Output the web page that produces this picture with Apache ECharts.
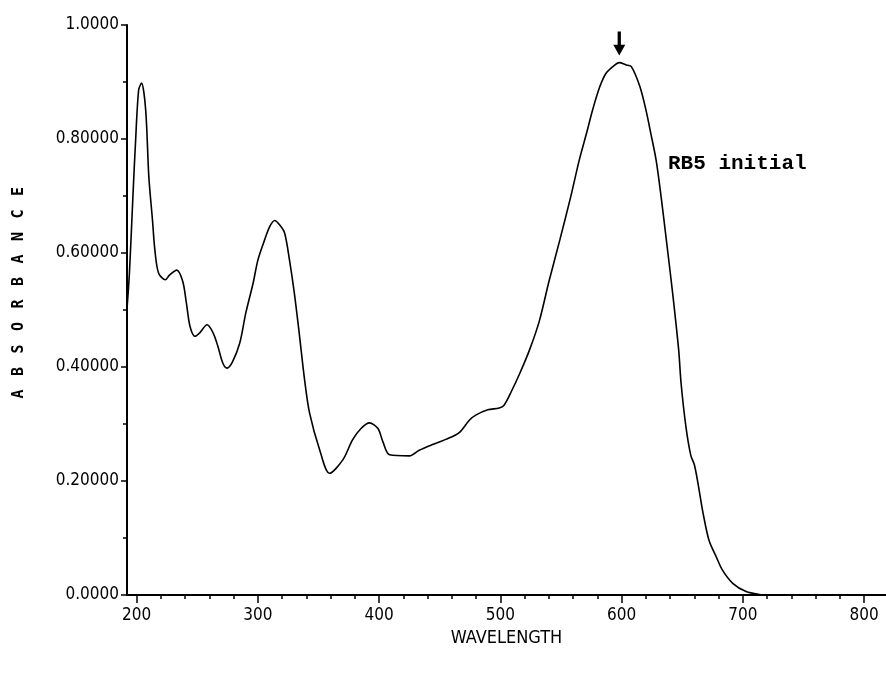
<!DOCTYPE html>
<html>
<head>
<meta charset="utf-8">
<script src="https://cdn.jsdelivr.net/npm/echarts@6/dist/echarts.min.js"></script>
<style>
  html, body { margin: 0; padding: 0; background: #fff; }
  #chart { width: 886px; height: 674px; }
</style>
</head>
<body>
<div id="chart"></div>
<script>
// spectrum
var wavelength = [191.5, 194, 197, 199, 201.6, 204, 207.4, 210, 213, 215, 218, 223.7, 227, 233, 238, 241, 244, 248, 252, 258,
  263, 267, 271, 274.5, 279, 285, 290, 296, 300, 305.5, 309.6, 313.8, 318, 322, 326, 330, 334, 338.5, 342.6, 351,
  359, 370, 378, 385, 392, 399, 403, 408.6, 425, 433, 444, 455, 466, 474.5, 480, 489.6, 499, 503, 509, 516,
  524, 532, 540, 549, 558, 565, 571, 576, 582, 587, 592.7, 598, 603.7, 608, 615, 620, 624, 628.4, 632.5, 637,
  642, 647, 649, 653, 657, 660, 663, 667, 672, 678, 683, 691.6, 702.6, 713.6, 722];
var absorbance = [0.488, 0.565, 0.705, 0.793, 0.886, 0.898, 0.851, 0.734, 0.658, 0.605, 0.565, 0.553, 0.561, 0.570, 0.550, 0.512, 0.471, 0.454, 0.460, 0.474,
  0.460, 0.436, 0.407, 0.398, 0.409, 0.442, 0.495, 0.547, 0.588, 0.623, 0.646, 0.657, 0.649, 0.635, 0.588, 0.530, 0.460, 0.377, 0.319, 0.254,
  0.2135, 0.237, 0.272, 0.292, 0.302, 0.292, 0.269, 0.246, 0.244, 0.254, 0.264, 0.273, 0.285, 0.307, 0.316, 0.325, 0.328, 0.333, 0.357, 0.389,
  0.430, 0.480, 0.550, 0.623, 0.699, 0.763, 0.810, 0.851, 0.892, 0.915, 0.927, 0.934, 0.930, 0.927, 0.892, 0.851, 0.810, 0.763, 0.699, 0.620,
  0.530, 0.430, 0.371, 0.295, 0.245, 0.228, 0.195, 0.145, 0.096, 0.067, 0.044, 0.0205, 0.006, 0.001, 0.0];

var xMajorTicks = [200, 300, 400, 500, 600, 700, 800];
var xMinorTicks = [220, 240, 260, 280, 320, 340, 360, 380, 420, 440, 460, 480, 520, 540, 560, 580,
  620, 640, 660, 680, 720, 740, 760, 780, 800];
var yTickLabels = { '0': '0.0000', '0.2': '0.20000', '0.4': '0.40000', '0.6': '0.60000', '0.8': '0.80000', '1': '1.0000' };
var peakPoint = [598, 0.934];
var noteText = 'RB5 initial';
var yTitle = 'ABSORBANCE';

var ink = '#000';
var labelFont = '"Liberation Sans Narrow", "DejaVu Sans Condensed", "Liberation Sans", sans-serif';

var points = wavelength.map(function(w, i) { return [w, absorbance[i]]; });

// y title: spaced out letters, read bottom to top
var titleLetters = yTitle.split('').map(function(ch, i) {
  return {
    type: 'text',
    x: 19,
    y: 394 - i * 22.5,
    rotation: Math.PI / 2,
    style: {
      text: ch,
      fill: ink,
      align: 'center',
      verticalAlign: 'middle',
      font: 'bold 15px "DejaVu Sans Mono", monospace'
    }
  };
});

var chart = echarts.init(document.getElementById('chart'), null, { renderer: 'canvas' });
chart.setOption({
  animation: false,
  backgroundColor: '#fff',
  grid: { left: 127, right: 0, top: 25, bottom: 79 },
  xAxis: [{
    type: 'value',
    min: 192,
    max: 818,
    name: 'WAVELENGTH',
    nameLocation: 'middle',
    nameGap: 31,
    nameTextStyle: { color: ink, fontFamily: labelFont, fontSize: 18 },
    axisLine: { lineStyle: { color: ink, width: 2 } },
    axisTick: { show: true, length: 8, lineStyle: { color: ink, width: 1.5 }, customValues: xMajorTicks },
    axisLabel: { color: ink, fontFamily: labelFont, fontSize: 17, margin: 12, customValues: xMajorTicks },
    splitLine: { show: false }
  }, {
    type: 'value',
    position: 'bottom',
    min: 192,
    max: 818,
    axisLine: { show: false },
    axisTick: { show: true, length: 4, lineStyle: { color: ink, width: 1.5 }, customValues: xMinorTicks },
    axisLabel: { show: false },
    splitLine: { show: false }
  }],
  yAxis: {
    type: 'value',
    min: 0,
    max: 1,
    interval: 0.2,
    axisLine: { show: true, lineStyle: { color: ink, width: 2 } },
    axisTick: { show: true, length: 6, lineStyle: { color: ink, width: 1.5 } },
    minorTick: { show: true, splitNumber: 2, length: 4, lineStyle: { color: ink, width: 1.5 } },
    axisLabel: {
      color: ink, fontFamily: labelFont, fontSize: 17, margin: 8,
      formatter: function(v) { return yTickLabels[String(+v.toFixed(1))]; }
    },
    splitLine: { show: false }
  },
  series: [{
    type: 'line',
    data: points,
    smooth: 0.3,
    showSymbol: false,
    lineStyle: { color: ink, width: 1.6 },
    markPoint: {
      silent: true,
      data: [{
        coord: peakPoint,
        symbol: 'path://M4,0 L7,0 L7,12 L11,12 L5.5,22 L0,12 L4,12 Z',
        symbolSize: [12, 24],
        symbolOffset: [0, -19],
        itemStyle: { color: ink },
        label: { show: false }
      }]
    }
  }],
  graphic: titleLetters.concat([{
    type: 'text',
    left: 668,
    top: 153,
    style: {
      text: noteText,
      fill: ink,
      font: 'bold 21px "Liberation Mono", "DejaVu Sans Mono", monospace'
    }
  }])
});
</script>
</body>
</html>
